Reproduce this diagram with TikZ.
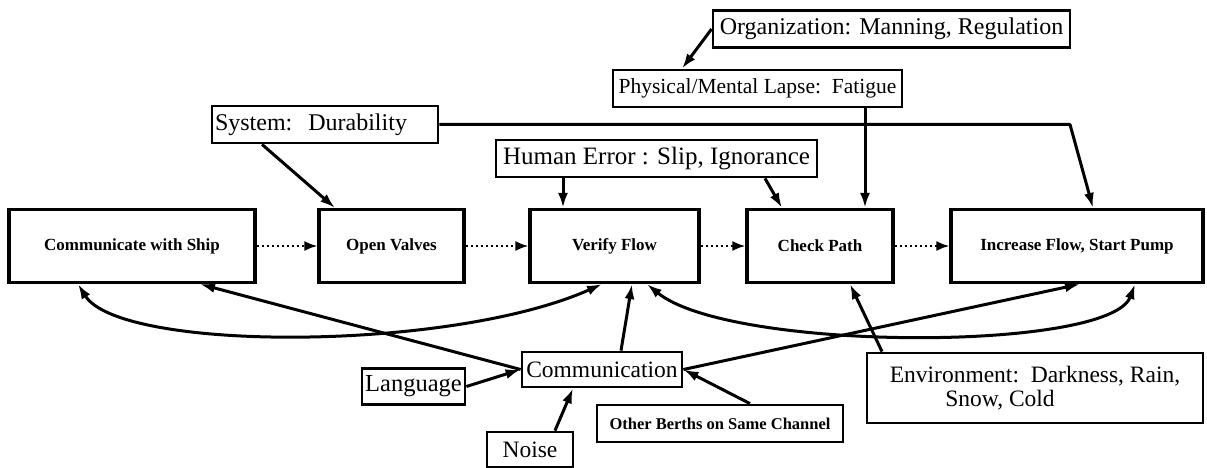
\documentclass[tikz,border=0pt]{standalone}
\usepackage{fontspec}
\setmainfont{Liberation Serif}
\usetikzlibrary{arrows.meta,calc}
\tikzset{
  mainbox/.style={draw, line width=3.2pt, inner sep=0pt, minimum height=73pt, font=\fontsize{17}{19}\selectfont\bfseries},
  topbox/.style={draw, line width=2.8pt, inner sep=2pt, minimum height=37pt, font=\fontsize{24}{26}\selectfont},
  smallbox/.style={draw, line width=2.8pt, inner sep=2pt, minimum height=36pt, font=\fontsize{23.5}{25}\selectfont},
  arr/.style={line width=3pt, -{Latex[length=15pt,width=10pt]}},
  arrboth/.style={line width=3pt, {Latex[length=15pt,width=10pt]}-{Latex[length=15pt,width=10pt]}},
  dotarr/.style={line width=2.2pt, dash pattern=on 2.5pt off 2.5pt, -{Latex[length=13pt,width=10pt]}}
}
\begin{document}
\begin{tikzpicture}[x=1pt,y=-1pt]
\useasboundingbox (0,0) rectangle (1207,468);
% top boxes
\node[topbox, minimum width=357pt] (org) at (891.5,29) {Organization: Manning, Regulation};
\node[topbox, minimum width=289pt, font=\fontsize{21.5}{24}\selectfont] (phys) at (757.5,88.5) {Physical/Mental Lapse:\ \ Fatigue};
\node[topbox, text width=220pt, align=left, inner sep=3pt] (sys) at (325,124.5) {System:\ \ Durability};
\node[topbox, minimum width=321pt, font=\fontsize{25}{27}\selectfont] (hum) at (656.5,158.5) {Human Error : Slip, Ignorance};
% main boxes
\node[mainbox, minimum width=246pt] (cws) at (132,246) {Communicate with Ship};
\node[mainbox, minimum width=145pt] (ov) at (391.5,246) {Open Valves};
\node[mainbox, minimum width=169pt] (vf) at (614.5,246) {Verify Flow};
\node[mainbox, minimum width=146pt] (cp) at (820,246) {Check Path};
\node[mainbox, minimum width=252pt] (inc) at (1077,246) {Increase Flow, Start Pump};
% lower boxes
\node[smallbox, minimum width=160pt, minimum height=35pt, inner sep=1pt] (comm) at (602,369.5) {Communication};
\node[smallbox, minimum width=103pt, font=\fontsize{24.5}{26}\selectfont] (lang) at (413.5,386.5) {Language};
\node[smallbox, minimum width=86pt, minimum height=35pt] (noise) at (530,449.5) {Noise};
\node[smallbox, minimum width=246pt, minimum height=37pt, font=\fontsize{16.5}{18}\selectfont\bfseries] (ob) at (720,423.5) {Other Berths on Same Channel};
\node[smallbox, minimum width=336pt, minimum height=70pt, align=center, font=\fontsize{23.5}{24}\selectfont] (env) at (1035,388) {Environment:\ \ Darkness, Rain,\\Snow, Cold\hspace*{70pt}};
% dotted sequence
\draw[dotarr] (cws.east) -- (ov.west);
\draw[dotarr] (ov.east) -- (vf.west);
\draw[dotarr] (vf.east) -- (cp.west);
\draw[dotarr] (cp.east) -- (inc.west);
% influences from top
\draw[arr] (org.west) -- (682,0 |- phys.north);
\draw[arr] (865,0 |- phys.south) -- (865,0 |- cp.north);
\coordinate (sysbend) at (1070,124.5);
\draw[arr, line join=round] (sys.east) -- (sysbend) -- (1093,0 |- inc.north);
\draw[arr] (262,0 |- sys.south) -- (335,0 |- ov.north);
\draw[arr] (563,0 |- hum.south) -- (563,0 |- vf.north);
\draw[arr] (765,0 |- hum.south) -- (782,0 |- cp.north);
% communication links
\draw[arr] (comm.west) -- (200,0 |- cws.south);
\draw[arr] (comm.east) -- (1080,0 |- inc.south);
\draw[arr] (621,0 |- comm.north) -- (632,0 |- vf.south);
\draw[arr] (lang.east) -- (comm.west);
\draw[arr] (555,0 |- noise.north) -- (573,0 |- comm.south);
\draw[arr] (750,0 |- ob.north) -- (comm.east);
\draw[arr] (882,0 |- env.north) -- (850,0 |- cp.south);
% curved feedback links
\draw[arrboth] (78,0 |- cws.south) .. controls (120,352) and (450,352) .. (602,0 |- vf.south);
\draw[arrboth] (647,0 |- vf.south) .. controls (730,352) and (1110,352) .. (1135,0 |- inc.south);
\end{tikzpicture}
\end{document}
